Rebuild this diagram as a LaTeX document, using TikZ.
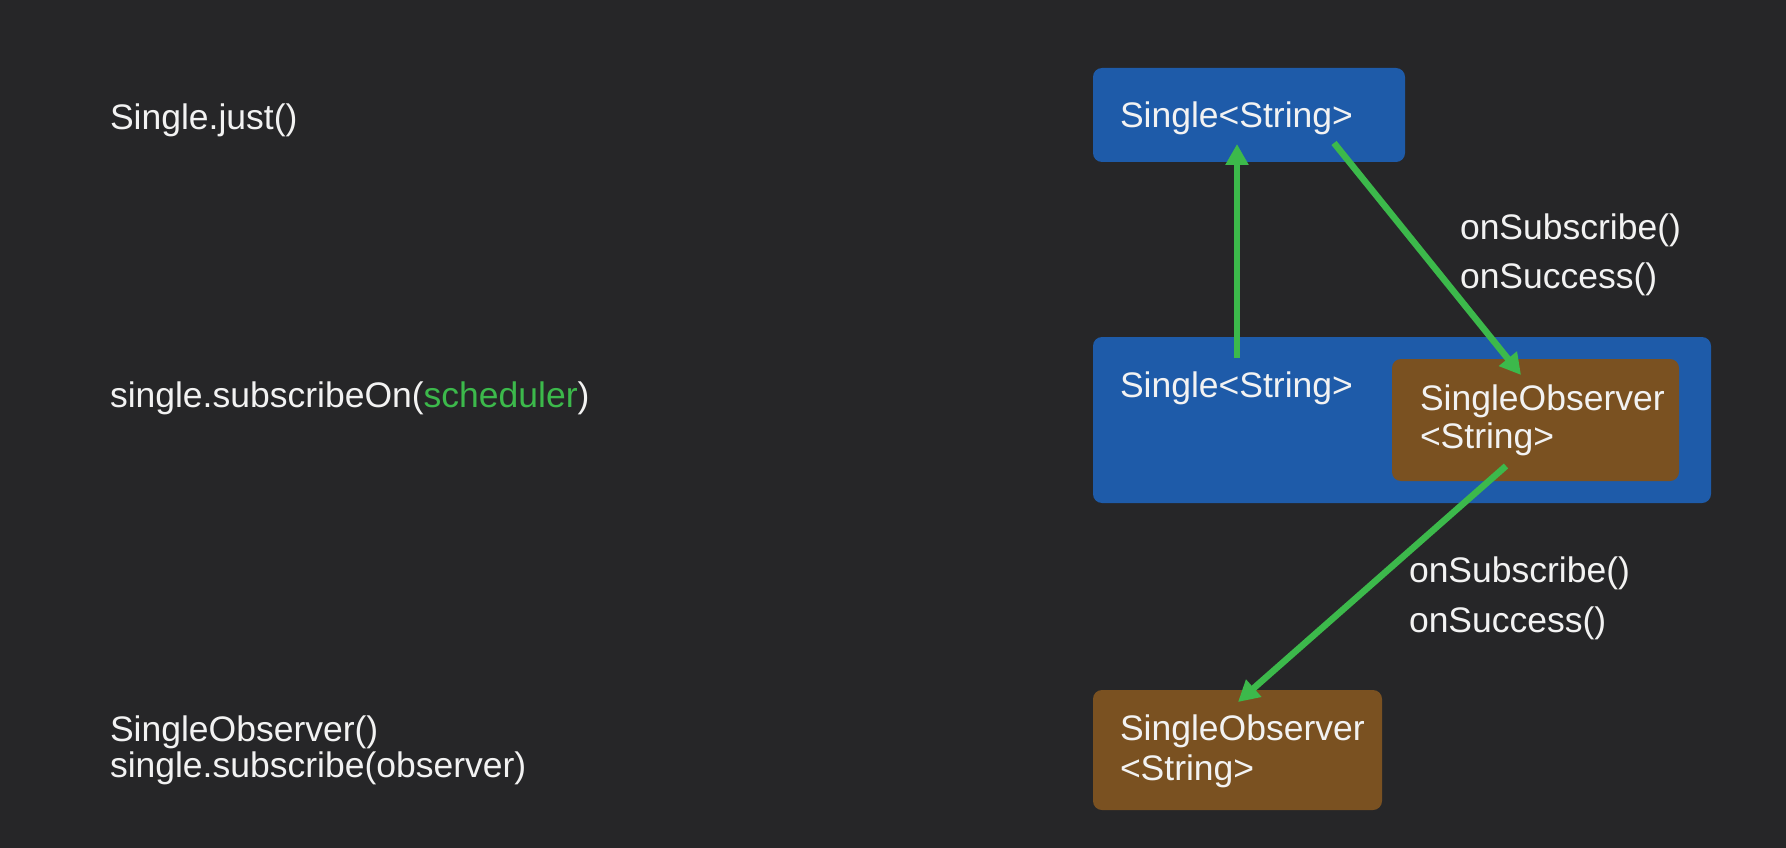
\documentclass[tikz,border=0pt]{standalone}
\usepackage{fontspec}
\setmainfont{Liberation Sans}
\usetikzlibrary{arrows.meta}
\definecolor{bg}{HTML}{262628}
\definecolor{fg}{HTML}{F2F2F2}
\definecolor{boxblue}{HTML}{1E5BA9}
\definecolor{boxbrown}{HTML}{7A5121}
\definecolor{arrgreen}{HTML}{3CB94B}
\tikzset{
  txt/.style={text=fg, font=\fontsize{35.5}{40}\selectfont, anchor=base west, inner sep=0pt, outer sep=0pt},
  bluebox/.style={fill=boxblue, rounded corners=9pt, anchor=north west, inner sep=0pt, outer sep=0pt},
  brownbox/.style={fill=boxbrown, rounded corners=9pt, anchor=north west, inner sep=0pt, outer sep=0pt},
  garrow/.style={draw=arrgreen, line width=6.5pt, -{Triangle[length=21pt,width=22pt]}}
}
\begin{document}
\begin{tikzpicture}[x=1pt,y=-1pt]
\fill[bg] (0,0) rectangle (1786,848);
\useasboundingbox (0,0) rectangle (1786,848);
% left code column
\node[txt] (just) at (110,130) {Single.just()};
\node[txt] (subon) at (110,407) {single.subscribeOn(\textcolor{arrgreen}{scheduler})};
\node[txt] (obs) at (110,741) {SingleObserver()};
\node[txt] (sub) at (110,777) {single.subscribe(observer)};
% boxes
\node[bluebox, minimum width=312pt, minimum height=94pt] (top) at (1093,68) {};
\node[txt] (toptxt) at (1120,128) {Single<String>};
\node[bluebox, minimum width=618pt, minimum height=166pt] (mid) at (1093,337) {};
\node[txt] (midtxt) at (1120,397) {Single<String>};
\node[brownbox, minimum width=287pt, minimum height=122pt] (inner) at (1392,359) {};
\node[txt] (innertxtA) at (1420,410) {SingleObserver};
\node[txt] (innertxtB) at (1420,448) {<String>};
\node[brownbox, minimum width=289pt, minimum height=120pt] (bot) at (1093,690) {};
\node[txt] (bottxtA) at (1120,740) {SingleObserver};
\node[txt] (bottxtB) at (1120,780) {<String>};
% labels
\node[txt] (lblA1) at (1460,239) {onSubscribe()};
\node[txt] (lblA2) at (1460,288) {onSuccess()};
\node[txt] (lblB1) at (1409,582) {onSubscribe()};
\node[txt] (lblB2) at (1409,632) {onSuccess()};
% arrows
\draw[garrow] ([xshift=144pt,yshift=-21pt]mid.north west) -- ([xshift=144pt,yshift=18pt]top.south west);
\draw[garrow] ([xshift=241pt,yshift=19pt]top.south west) -- ([xshift=129pt,yshift=-16pt]inner.north west);
\draw[garrow] ([xshift=114pt,yshift=15pt]inner.south west) -- ([xshift=145pt,yshift=-12pt]bot.north west);
\end{tikzpicture}
\end{document}
